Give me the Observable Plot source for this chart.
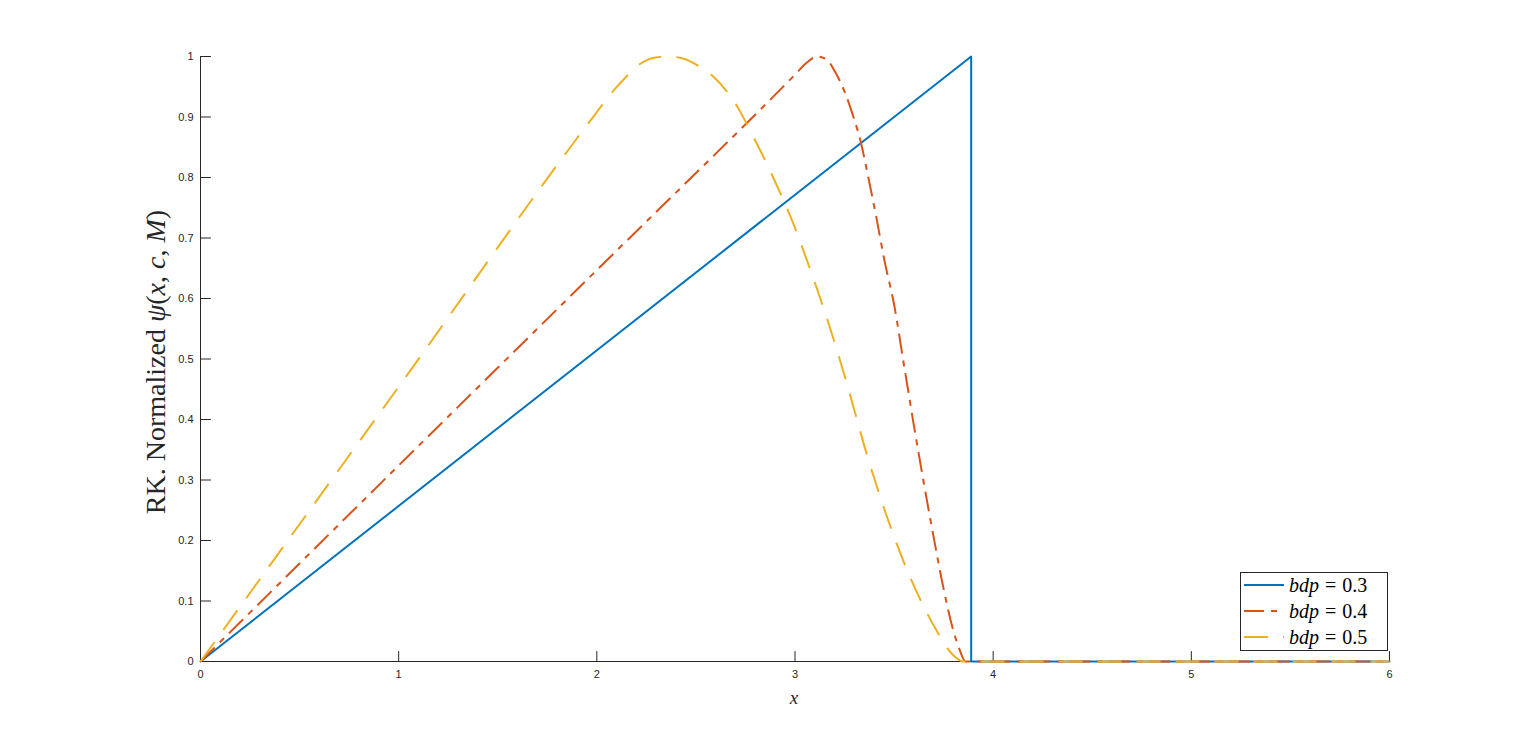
<!DOCTYPE html>
<html>
<head>
<meta charset="utf-8">
<script src="https://cdn.jsdelivr.net/npm/d3@7"></script>
<script src="https://cdn.jsdelivr.net/npm/@observablehq/plot@0.6"></script>
<style>
  html, body { margin: 0; padding: 0; background: #fff; }
  #chart { width: 1536px; height: 744px; }
</style>
</head>
<body>
<div id="chart"></div>
<script>
// ---- data ----
const seriesNames = ["0.3", "0.4", "0.5"];
const seriesColors = ["#0072BD", "#D95319", "#EDB120"];

const x03 = [0, 3.889, 3.889, 6];
const y03 = [0, 1, 0, 0];

const x04 = [0, 1, 2, 3, 3.06, 3.11, 3.16, 3.20, 3.25, 3.29, 3.33, 3.37, 3.41, 3.45, 3.50, 3.55, 3.60, 3.65, 3.70, 3.75, 3.80, 3.83, 3.86, 6];
const y04 = [0, 0.324, 0.647, 0.970, 0.990, 1.000, 0.995, 0.976, 0.942, 0.905, 0.861, 0.800, 0.735, 0.665, 0.590, 0.490, 0.390, 0.295, 0.205, 0.120, 0.050, 0.020, 0, 0];

const x05 = [0, 1, 2, 2.085, 2.15, 2.22, 2.29, 2.36, 2.43, 2.51, 2.59, 2.69, 2.79, 2.89, 2.99, 3.08, 3.18, 3.27, 3.36, 3.46, 3.58, 3.66, 3.72, 3.76, 3.80, 3.85, 6];
const y05 = [0, 0.454, 0.908, 0.944, 0.967, 0.988, 0.998, 1.000, 0.997, 0.985, 0.966, 0.927, 0.867, 0.800, 0.725, 0.645, 0.548, 0.450, 0.345, 0.243, 0.140, 0.084, 0.048, 0.026, 0.010, 0, 0];

const xTicks = [0, 1, 2, 3, 4, 5, 6];
const xTickLabels = ["0", "1", "2", "3", "4", "5", "6"];
const yTicks = [0, 0.1, 0.2, 0.3, 0.4, 0.5, 0.6, 0.7, 0.8, 0.9, 1];
const yTickLabels = ["0", "0.1", "0.2", "0.3", "0.4", "0.5", "0.6", "0.7", "0.8", "0.9", "1"];

// ---- build tables ----
const toRows = (xs, ys) => xs.map((x, i) => ({x, y: ys[i]}));
const d03 = toRows(x03, y03);
const d04 = toRows(x04, y04);
const d05 = toRows(x05, y05);

const axisColor = "#262626";
const sansFont = "'Liberation Sans', Arial, Helvetica, sans-serif";
const serifFont = "'Liberation Serif', 'Times New Roman', serif";
const dashes = [null, "20,7,6,7", "24,15"];

const tickShape = {draw(context, l) { context.moveTo(0, 0); context.lineTo(0, -l); }};

const svg = Plot.plot({
  width: 1536,
  height: 744,
  marginLeft: 200,
  marginRight: 147,
  marginTop: 56,
  marginBottom: 83,
  style: {background: "#fff", color: axisColor, fontFamily: sansFont},
  x: {domain: [0, 6]},
  y: {domain: [0, 1]},
  marks: [
    Plot.ruleY([0], {stroke: axisColor, strokeWidth: 1}),
    Plot.ruleX([0], {stroke: axisColor, strokeWidth: 1}),
    Plot.vector(xTicks, {x: d => d, y: 0, length: 10, rotate: 0, anchor: "start", shape: tickShape, stroke: axisColor, strokeWidth: 1}),
    Plot.vector(yTicks, {x: 0, y: d => d, length: 10, rotate: 90, anchor: "start", shape: tickShape, stroke: axisColor, strokeWidth: 1}),
    Plot.axisX({ticks: xTicks, tickFormat: (d) => xTickLabels[xTicks.indexOf(d)], tickSize: 0, tickPadding: 9, fontSize: 11, fill: axisColor, label: null}),
    Plot.axisY({ticks: yTicks, tickFormat: (d) => yTickLabels[yTicks.indexOf(d)], tickSize: 0, tickPadding: 7, fontSize: 11, fill: axisColor, label: null}),
    Plot.line(d03, {x: "x", y: "y", stroke: seriesColors[0], strokeWidth: 2, strokeLinejoin: "round"}),
    Plot.line(d04, {x: "x", y: "y", curve: "monotone-x", stroke: seriesColors[1], strokeWidth: 2, strokeDasharray: dashes[1], strokeLinecap: "butt", strokeLinejoin: "round"}),
    Plot.line(d05, {x: "x", y: "y", curve: "monotone-x", stroke: seriesColors[2], strokeWidth: 2, strokeDasharray: dashes[2], strokeLinecap: "butt", strokeLinejoin: "round"})
  ]
});

document.getElementById("chart").appendChild(svg);

const s = d3.select(svg);

// y-axis label
const yl = s.append("text")
  .attr("transform", "translate(165,362) rotate(-90)")
  .attr("text-anchor", "middle")
  .attr("font-family", serifFont)
  .attr("font-size", 28)
  .attr("fill", axisColor);
yl.append("tspan").text("RK. Normalized ");
yl.append("tspan").attr("font-style", "italic").text("ψ");
yl.append("tspan").text("(");
yl.append("tspan").attr("font-style", "italic").text("x");
yl.append("tspan").text(", ");
yl.append("tspan").attr("font-style", "italic").text("c");
yl.append("tspan").text(", ");
yl.append("tspan").attr("font-style", "italic").text("M");
yl.append("tspan").text(")");

// x-axis label
s.append("text")
  .attr("x", 794).attr("y", 704)
  .attr("text-anchor", "middle")
  .attr("font-family", serifFont)
  .attr("font-style", "italic")
  .attr("font-size", 19)
  .attr("fill", axisColor)
  .text("x");

// legend
const lg = s.append("g");
lg.append("rect")
  .attr("x", 1240.5).attr("y", 572.5).attr("width", 147).attr("height", 78)
  .attr("fill", "#fff").attr("stroke", axisColor).attr("stroke-width", 1);
seriesNames.forEach((name, i) => {
  const cy = 585 + i * 26;
  lg.append("line")
    .attr("x1", 1244).attr("x2", 1284).attr("y1", cy).attr("y2", cy)
    .attr("stroke", seriesColors[i]).attr("stroke-width", 2)
    .attr("stroke-dasharray", dashes[i]);
  const t = lg.append("text")
    .attr("x", 1289).attr("y", cy + 7)
    .attr("text-anchor", "start")
    .attr("font-family", serifFont).attr("font-size", 20).attr("fill", "#000");
  t.append("tspan").attr("font-style", "italic").text("bdp");
  t.append("tspan").attr("dx", 6).text("=");
  t.append("tspan").attr("dx", 6).text(name);
});
</script>
</body>
</html>
